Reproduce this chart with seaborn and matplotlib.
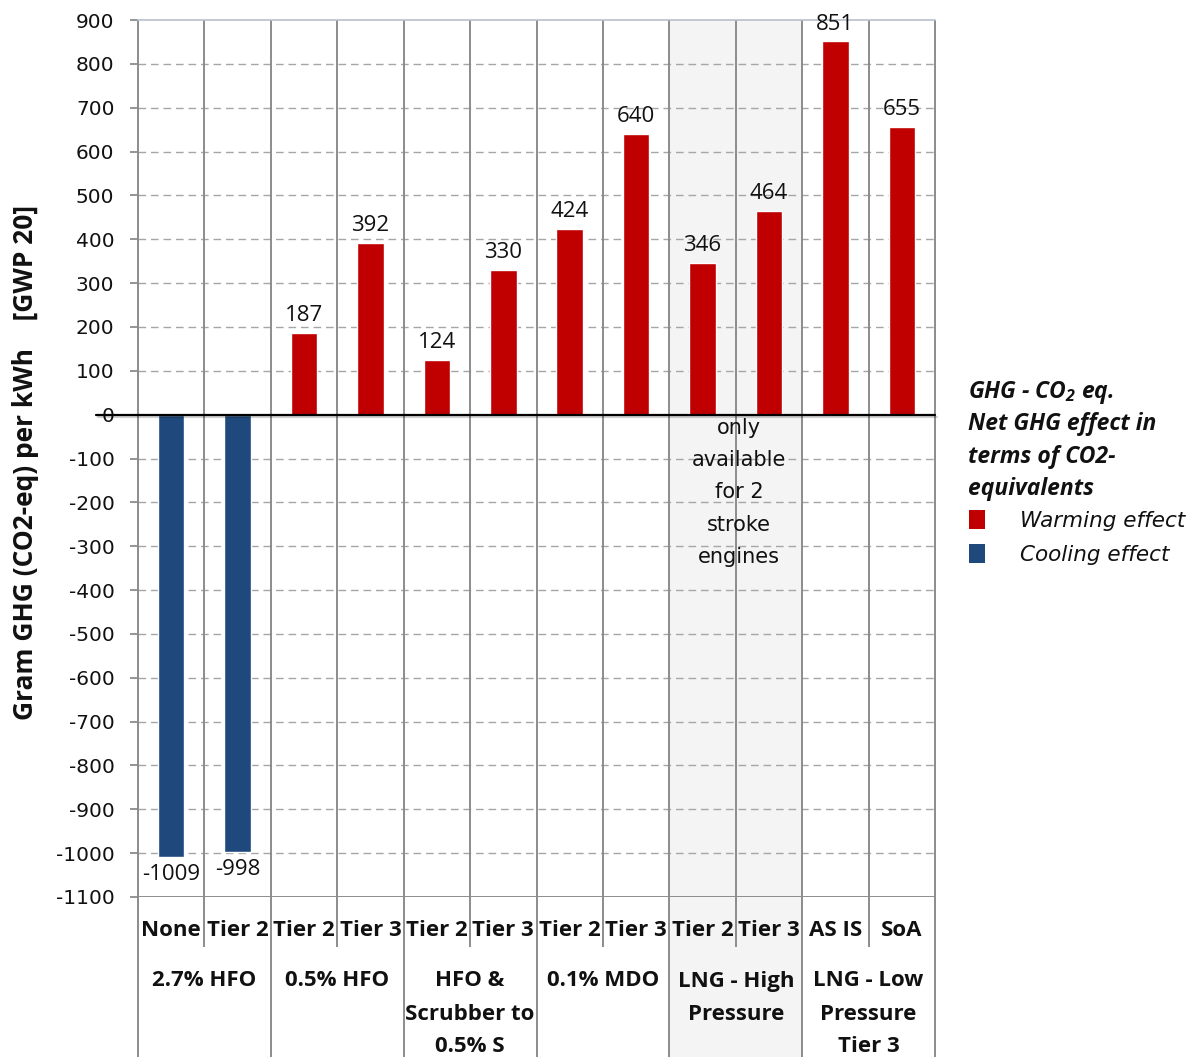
import numpy as np
import pandas as pd
import matplotlib
matplotlib.use("Agg")
import matplotlib.pyplot as plt
import matplotlib.patheffects as pe
from matplotlib.patches import Patch, Rectangle
import seaborn as sns

# ---- data -------------------------------------------------------------
groups = ["2.7% HFO", "0.5% HFO", "HFO &\nScrubber to\n0.5% S", "0.1% MDO",
          "LNG - High\nPressure", "LNG - Low\nPressure\nTier 3"]
tiers = ["None", "Tier 2", "Tier 2", "Tier 3", "Tier 2", "Tier 3",
         "Tier 2", "Tier 3", "Tier 2", "Tier 3", "AS IS", "SoA"]
group_of_bar = [0, 0, 1, 1, 2, 2, 3, 3, 4, 4, 5, 5]
ghg_values = [-1009, -998, 187, 392, 124, 330, 424, 640, 346, 464, 851, 655]
effect_labels = ["Warming effect", "Cooling effect"]
effect_colors = ["#C00000", "#1F497D"]
y_ticks = list(range(-1100, 901, 100))
shaded_group = 4
note_lines = ["only", "available", "for 2", "stroke", "engines"]
legend_header = ["GHG - CO$_2$ eq.", "Net GHG effect in", "terms of CO2-", "equivalents"]
y_title = "Gram GHG (CO2-eq) per kWh    [GWP 20]"

# ---- style ------------------------------------------------------------
sns.set_theme(style="white")
plt.rcParams["font.family"] = ["Open Sans", "DejaVu Sans"]
plt.rcParams["mathtext.fontset"] = "custom"
plt.rcParams["mathtext.rm"] = "Open Sans:style=italic:weight=bold"
plt.rcParams["mathtext.it"] = "Open Sans:style=italic:weight=bold"
plt.rcParams["mathtext.bf"] = "Open Sans:style=italic:weight=bold"

TXT = "#111111"
VGRID = "#8C8C8C"
HGRID = "#A6A6A6"
SHADE = "#F4F4F4"
WIDE = ["DejaVu Sans"]

W, H = 1203, 1057
fig = plt.figure(figsize=(W / 100, H / 100), dpi=100)
ax_left, ax_right, ax_top, ax_bot = 138, 935, 20, 897
ax = fig.add_axes([ax_left / W, 1 - ax_bot / H,
                   (ax_right - ax_left) / W, (ax_bot - ax_top) / H])
ax.set_facecolor("white")

slots = [f"{groups[g]}|{t}|{i}" for i, (g, t) in enumerate(zip(group_of_bar, tiers))]
df = pd.DataFrame({
    "slot": slots,
    "value": ghg_values,
    "effect": [effect_labels[0] if v > 0 else effect_labels[1] for v in ghg_values],
})

n = len(slots)


def yfrac(py):
    """Pixel row -> axes fraction (used for the label area below the plot)."""
    return (ax_bot - py) / (ax_bot - ax_top)


xt = ax.get_xaxis_transform()

# bars
sns.barplot(data=df, x="slot", y="value", hue="effect", order=slots,
            hue_order=effect_labels, palette=dict(zip(effect_labels, effect_colors)),
            dodge=False, width=0.4, saturation=1, legend=False, ax=ax, zorder=3)
ax.set_xlim(-0.5, n - 0.5)
ax.set_ylim(y_ticks[0], y_ticks[-1])

# shaded band for the high-pressure LNG columns (extends through the labels)
gcols = [i for i, g in enumerate(group_of_bar) if g == shaded_group]
ax.add_patch(Rectangle((min(gcols) - 0.5, yfrac(H + 5)), len(gcols), 1 - yfrac(H + 5),
                       transform=xt, facecolor=SHADE, edgecolor="none",
                       zorder=0, clip_on=False))

# dashed horizontal grid
for yv in y_ticks[1:-1]:
    if yv != 0:
        ax.axhline(yv, color=HGRID, lw=1.0, ls=(0, (5.5, 3.5)), zorder=1)

for cont in ax.containers:
    ax.bar_label(cont, fmt="%d", padding=5, fontsize=16, color=TXT)

# column separators (inside plot and down through category labels)
for i in range(n + 1):
    xb = i - 0.5
    if i == 0 or i == n or group_of_bar[i] != group_of_bar[i - 1]:
        y0 = yfrac(H + 5)
    else:
        y0 = yfrac(947)
    ax.plot([xb, xb], [y0, 1], transform=xt, color=VGRID, lw=1.4,
            zorder=2, clip_on=False, solid_capstyle="butt")

# zero line with a soft shadow
ax.plot([-0.5 - 42 / 66.4, n - 0.5], [0, 0], color="black", lw=1.6, zorder=4,
        clip_on=False,
        path_effects=[pe.SimpleLineShadow(offset=(1.2, -1.5), alpha=0.18, shadow_color="black"),
                      pe.Normal()])

# frame
for s in ["left", "right", "bottom"]:
    ax.spines[s].set_visible(False)
ax.spines["top"].set_color("#B9C0CB")
ax.spines["top"].set_linewidth(1.2)
ax.axhline(y_ticks[0], color=VGRID, lw=1.4, zorder=2)

# y axis
ax.set_yticks(y_ticks)
ax.set_yticklabels([str(v) for v in y_ticks])
ax.tick_params(axis="y", left=True, length=6, width=1.3, color=VGRID,
               labelsize=14.5, labelcolor=TXT, pad=11)
for lbl in ax.get_yticklabels():
    lbl.set_family(WIDE)
ax.tick_params(axis="x", bottom=False, labelbottom=False)
ax.set_xlabel("")
ax.set_ylabel("")
fig.text(26 / W, 1 - 462.5 / H, y_title, rotation=90, ha="center", va="center",
         fontsize=19, fontweight="bold", color=TXT)

# category labels below the plot
for i, t in enumerate(tiers):
    ax.text(i, yfrac(931), t, transform=xt, ha="center", va="center",
            fontsize=16, fontweight="bold", color=TXT)
for g, name in enumerate(groups):
    cols = [i for i, gg in enumerate(group_of_bar) if gg == g]
    xc = (min(cols) + max(cols)) / 2
    for j, line in enumerate(name.split("\n")):
        ax.text(xc, yfrac(981 + 33 * j), line, transform=xt, ha="center",
                va="center", fontsize=16, fontweight="bold", color=TXT)

# note in the shaded band
xc_note = (min(gcols) + max(gcols)) / 2 + 0.05
scale = (y_ticks[-1] - y_ticks[0]) / (ax_bot - ax_top)
for j, line in enumerate(note_lines):
    py = 427 + 32.3 * j
    ax.text(xc_note, (414 - py) * scale, line, ha="center", va="center",
            fontsize=15, family=WIDE, color=TXT, zorder=5)

# legend header
for j, line in enumerate(legend_header):
    fig.text(968 / W, 1 - (392 + 32.3 * j) / H, line, ha="left", va="center",
             fontsize=16.5, fontweight="bold", fontstyle="italic", color=TXT)

handles = [Patch(facecolor=c, edgecolor="none") for c in effect_colors]
fig.legend(handles, effect_labels, loc="center left",
           bbox_to_anchor=(969 / W, 1 - 537.5 / H), frameon=False,
           borderpad=0, borderaxespad=0, handlelength=0.75, handleheight=1.0,
           handletextpad=1.6, labelspacing=0.6,
           prop={"size": 15.5, "style": "oblique", "family": WIDE}, labelcolor=TXT)

fig.savefig("out.png", dpi=100, facecolor="white")
